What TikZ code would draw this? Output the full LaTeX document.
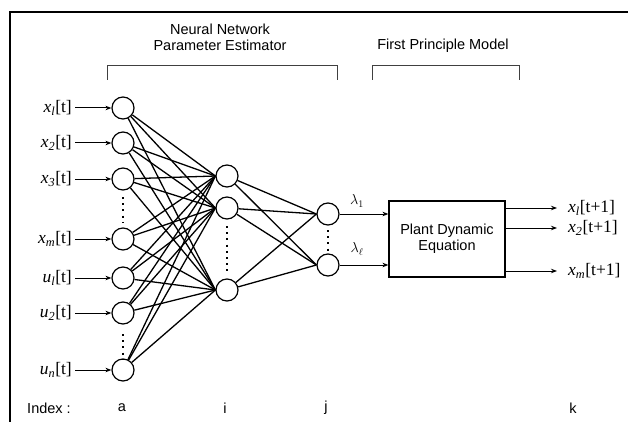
\documentclass[tikz,border=0pt]{standalone}
\usepackage{fontspec}
\setmainfont{Liberation Sans}
\newfontfamily\serifl{Liberation Serif}
\usetikzlibrary{arrows.meta}
\tikzset{
  neuron/.style={circle,draw,line width=1.2pt,minimum size=22pt,inner sep=0pt},
  wire/.style={line width=1.3pt},
  arr/.style={line width=1pt,-{Stealth[length=6pt,width=4.5pt]}},
  dotcol/.style={line width=2pt,dash pattern=on 2pt off 4.2pt},
  sans/.style={font=\fontsize{14.5}{16}\selectfont},
  lab/.style={font=\serifl\fontsize{17.5}{19}\selectfont,inner sep=0pt},
  brk/.style={line width=1pt,draw=black!75},
}
\newcommand{\xl}[2]{\textit{#1}\textsubscript{\textit{#2}}}
\begin{document}
\begin{tikzpicture}[x=1pt,y=-1pt]
\useasboundingbox (0,0) rectangle (628,422);
% frame
\draw[line width=1.6pt] (10,422) -- (10,12) -- (628,12);
% headings
\node[sans,align=center] (hnn) at (220,37) {Neural Network\\Parameter Estimator};
\node[sans] (hfp) at (443,46) {First Principle Model};
\draw[brk] (107,80) -- (107,66) -- (337,66) -- (337,80);
\draw[brk] (372,80) -- (372,66) -- (519,66) -- (519,80);
% input layer
\foreach \n/\y in {1/108,2/143,3/179,4/239,5/278,6/313,7/370}{
  \node[neuron] (a\n) at (123,\y) {};
}
\foreach \n/\y in {1/176,2/208,3/290}{
  \node[neuron] (h\n) at (227,\y) {};
}
\node[neuron] (o1) at (328,214) {};
\node[neuron] (o2) at (328,265) {};
\node[draw,line width=1.2pt,minimum width=116pt,minimum height=76pt,inner sep=0pt,
      sans,align=center] (box) at (447,239) {Plant Dynamic\\Equation};
% dots
\draw[dotcol] (123,197) -- (123,222);
\draw[dotcol] (123,334) -- (123,359);
\draw[dotcol] (227,226) -- (227,274);
\draw[dotcol] (328,230) -- (328,251);
% connections
\foreach \i in {1,...,7}{
  \foreach \j in {1,2,3}{
    \draw[wire] (a\i) -- (h\j.west);
  }
}
\foreach \j in {1,2,3}{
  \foreach \k in {1,2}{
    \draw[wire] (h\j) -- (o\k.west);
  }
}
% input labels and arrows
\foreach \n/\nm/\s in {1/x/l,2/x/2,3/x/3,4/x/m,5/u/l,6/u/2,7/u/n}{
  \node[lab,anchor=east] (l\n) at (72,0 |- a\n) {\xl{\nm}{\s}[t]};
  \draw[arr] (l\n.east) ++(3,0) coordinate (s\n) (s\n) -- (a\n.west);
}
% to box
\draw[arr] (o1.east) -- (box.west |- o1);
\draw[arr] (o2.east) -- (box.west |- o2);
\node[font=\fontsize{14}{15}\selectfont] (lam1) at (357,201) {$\lambda_1$};
\node[font=\fontsize{14}{15}\selectfont] (lam2) at (357,249) {$\lambda_\ell$};
% outputs
\coordinate (r1) at (557,208);
\coordinate (r2) at (557,228);
\coordinate (r3) at (557,271);
\foreach \n in {1,2,3}{ \draw[arr] (box.east |- r\n) -- (r\n); }
\node[lab,anchor=west] (y1) at (568,208) {\xl{x}{l}[t+1]};
\node[lab,anchor=west] (y2) at (568,228) {\xl{x}{2}[t+1]};
\node[lab,anchor=west] (y3) at (568,271) {\xl{x}{m}[t+1]};
% index row
\node[sans] (ix) at (49,408) {Index :};
\node[sans] (ia) at (122,408) {a};
\node[sans] (ii) at (225,408) {i};
\node[sans] (ij) at (326,408) {j};
\node[sans] (ik) at (573,408) {k};
\end{tikzpicture}
\end{document}
